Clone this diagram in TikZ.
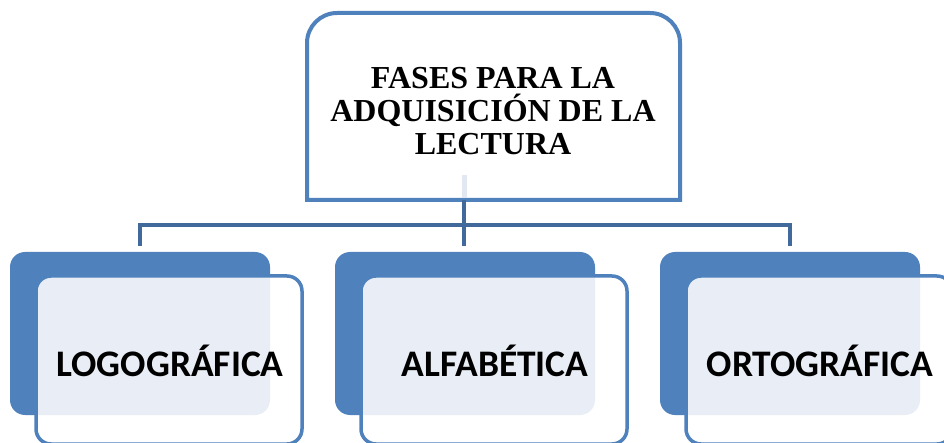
\documentclass[tikz,border=0pt]{standalone}
\usepackage{fontspec}
\setmainfont{Liberation Serif}
\newfontfamily\carlito{Carlito}
\definecolor{boxblue}{HTML}{4F81BD}
\definecolor{connblue}{HTML}{41699C}
\definecolor{paleblue}{HTML}{E9EEF6}
\definecolor{ghost}{HTML}{E2E8F1}
\tikzset{
  topbox/.style={draw=boxblue, line width=4pt, fill=white},
  conn/.style={draw=connblue, line width=4pt},
  backbox/.style={fill=boxblue, rounded corners=15pt},
  frontline/.style={draw=boxblue, line width=3.5pt, rounded corners=15pt},
  toptext/.style={align=center, font=\bfseries\fontsize{32}{33}\selectfont, inner sep=0pt},
  lowtext/.style={font=\carlito\bfseries\fontsize{37.5}{40}\selectfont, inner sep=0pt},
}
\begin{document}
\begin{tikzpicture}[x=1pt,y=-1pt]
\useasboundingbox (0,0) rectangle (944,443);
% top box
\draw[topbox] (307,200) -- (307,43) arc[start angle=180,end angle=270,radius=30]
  -- (650,13) arc[start angle=270,end angle=360,radius=30] -- (680,200) -- cycle;
\draw[ghost, line width=5pt] (464,175) -- (464,198);
\node[toptext] (top) at (493,111) {FASES PARA LA\\ADQUISICIÓN DE LA\\LECTURA};
% connectors
\coordinate (tb) at (464,200);
\coordinate (hub) at (464,225);
\coordinate (d1) at (140,246);
\coordinate (d2) at (464,246);
\coordinate (d3) at (790,246);
\draw[conn] (tb) -- (d2);
\draw[conn] (d1) -- (d1 |- hub) -- (d3 |- hub) -- (d3);
% lower boxes
\foreach \i/\dx/\txt in {1/0/LOGOGRÁFICA, 2/325/ALFABÉTICA, 3/650/ORTOGRÁFICA}{
  \begin{scope}[xshift=\dx pt]
    \fill[backbox] (10,252) rectangle (270,415);
    \fill[white, rounded corners=15pt] (36,276) rectangle (302,444);
    \begin{scope}
      \clip[rounded corners=15pt] (10,252) rectangle (270,415);
      \fill[paleblue, rounded corners=15pt] (36,276) rectangle (302,444);
    \end{scope}
    \draw[frontline] (36,276) rectangle (302,444);
    \node[lowtext] (low\i) at (170,361) {\txt};
  \end{scope}
}
\end{tikzpicture}
\end{document}
